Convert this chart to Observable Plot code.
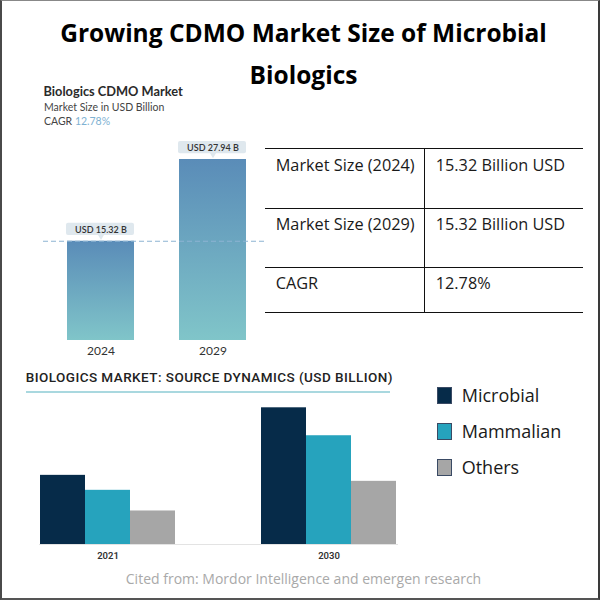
<!DOCTYPE html>
<html><head><meta charset="utf-8">
<script src="https://cdn.jsdelivr.net/npm/d3@7"></script>
<script src="https://cdn.jsdelivr.net/npm/@observablehq/plot@0.6"></script>
<style>
html,body{margin:0;padding:0;background:#fff;}
#page{position:relative;width:600px;height:600px;overflow:hidden;font-family:"Open Sans",sans-serif;background:#fff;}
#frame{position:absolute;left:0;top:0;width:600px;height:600px;box-sizing:border-box;border-left:2px solid #4a4a4a;border-top:1px solid #888;border-right:2.5px solid #3a3a3a;border-bottom:2.5px solid #555;pointer-events:none;z-index:10;}
.abs{position:absolute;white-space:nowrap;line-height:1;}
.hl{position:absolute;height:1.4px;background:#111;}
.vl{position:absolute;width:1.4px;background:#111;}
.cell{position:absolute;white-space:nowrap;line-height:1;font-family:"Open Sans",sans-serif;font-size:16.3px;color:#1a1a1a;}
.sw{position:absolute;width:13px;height:15px;border:1px solid #3a4a64;}
.lg{position:absolute;white-space:nowrap;line-height:1;font-family:"Open Sans",sans-serif;font-size:18px;color:#1a1a1a;}
</style>
</head><body>
<div id="page">
  <div id="title" class="abs" style="left:0;top:11.5px;width:607px;text-align:center;font-weight:700;font-size:24.5px;line-height:42px;color:#000;white-space:normal;">Growing CDMO Market Size of Microbial<br>Biologics</div>

  <div class="abs" style="left:43.5px;top:84.8px;font-family:Lato;font-weight:700;font-size:12.8px;color:#2a2a2a;">Biologics CDMO Market</div>
  <div class="abs" style="left:44px;top:101.7px;font-family:Lato;font-size:10.5px;color:#444;">Market Size in USD Billion</div>
  <div class="abs" style="left:44px;top:116px;font-family:Lato;font-size:10.5px;color:#444;">CAGR <span style="color:#7eb1d2">12.78%</span></div>

  <div id="chart1" style="position:absolute;left:0;top:130px;"></div>
  <div id="table"></div>

  <div class="abs" style="left:25.7px;top:371.4px;font-family:Roboto;font-weight:500;font-size:13.5px;letter-spacing:0.45px;color:#222;">BIOLOGICS MARKET: SOURCE DYNAMICS (USD BILLION)</div>
  <div style="position:absolute;left:26px;top:391px;width:364px;height:1.5px;background:#a9d8df;"></div>
  <div id="chart2" style="position:absolute;left:0;top:395px;"></div>
  <div id="legend"></div>

  <div class="abs" style="left:0;width:607px;text-align:center;top:571.6px;font-size:14px;color:#a9a9a9;">Cited from: Mordor Intelligence and emergen research</div>
  <div id="frame"></div>
</div>
<script>
// ---- Data: Biologics CDMO market ----
const marketYears = ["2024", "2029"];
const marketValues = [15.32, 27.94];
const marketLabels = ["USD 15.32 B", "USD 27.94 B"];

// ---- Data: summary table ----
const tableLabels = ["Market Size (2024)", "Market Size (2029)", "CAGR"];
const tableValues = ["15.32 Billion USD", "15.32 Billion USD", "12.78%"];

// ---- Data: source dynamics (USD billion, estimated) ----
const sourceYears = ["2021", "2030"];
const sources = ["Microbial", "Mammalian", "Others"];
const sourceColors = ["#062b49", "#26a3bd", "#a6a6a6"];
const values2021 = [69.3, 54.3, 33.6];
const values2030 = [137.0, 109.0, 63.3];

const market = marketYears.map((year, i) => ({year, value: marketValues[i], label: marketLabels[i]}));

const gradient = () => {
  const defs = d3.create("svg:defs");
  const g = defs.append("linearGradient").attr("id", "barGrad").attr("x1", 0).attr("y1", 0).attr("x2", 0).attr("y2", 1);
  g.append("stop").attr("offset", "0").attr("stop-color", "#5a8cb8");
  g.append("stop").attr("offset", "1").attr("stop-color", "#80c5c9");
  return defs.node();
};

const chart1 = Plot.plot({
  width: 265, height: 240,
  marginLeft: 43, marginRight: 0, marginTop: 0, marginBottom: 30,
  style: {fontFamily: "Lato", background: "transparent", color: "#333", overflow: "visible"},
  x: {domain: marketYears, range: [66.7, 246], paddingInner: 0.4, paddingOuter: 0, label: null},
  y: {domain: [0, marketValues[1]], range: [210, 29], axis: null},
  marks: [
    gradient,
    Plot.barY(market, {x: "year", y: "value", fill: "url(#barGrad)"}),
    Plot.ruleY([marketValues[0]], {stroke: "#8db4d2", strokeWidth: 1.1, strokeDasharray: "5,3"}),
    Plot.barY(market, {x: "year", y1: "value", y2: "value", insetTop: -18, insetBottom: 5.7, insetLeft: -1, insetRight: 0, fill: "#dfe8ee", rx: 2}),
    Plot.dot(market, {x: "year", y: "value", symbol: "triangle", r: 2.4, rotate: 180, dy: -5, fill: "#dfe8ee"}),
    Plot.text(market, {x: "year", y: "value", text: "label", dy: -11.6, fontSize: 9, fontWeight: 600, fill: "#333"}),
    Plot.axisX({tickSize: 0, tickPadding: 5.5, fontSize: 12, label: null})
  ]
});
document.getElementById("chart1").append(chart1);

// ---- Table ----
const table = document.getElementById("table");
const rowLines = [148.3, 208.3, 267.7, 312.3];
rowLines.forEach(y => {
  const d = document.createElement("div");
  d.className = "hl"; d.style.left = "265px"; d.style.width = "318px"; d.style.top = (y - 0.7) + "px";
  table.append(d);
});
const v = document.createElement("div");
v.className = "vl"; v.style.left = "423.6px"; v.style.top = "148px"; v.style.height = "164.5px";
table.append(v);
const rowBaselines = [171, 230.3, 289.3];
tableLabels.forEach((t, i) => {
  const a = document.createElement("div");
  a.className = "cell"; a.textContent = t; a.style.left = "275.7px"; a.style.top = (rowBaselines[i] - 14.5) + "px";
  table.append(a);
  const b = document.createElement("div");
  b.className = "cell"; b.textContent = tableValues[i]; b.style.left = "435.7px"; b.style.top = (rowBaselines[i] - 14.5) + "px";
  table.append(b);
});

// ---- Source dynamics chart ----
const dyn = [];
[values2021, values2030].forEach((vals, j) => sources.forEach((s, i) => dyn.push({year: sourceYears[j], source: s, value: vals[i]})));

const chart2 = Plot.plot({
  width: 420, height: 175,
  marginLeft: 22, marginRight: 15, marginTop: 0, marginBottom: 26,
  style: {fontFamily: "Roboto", background: "transparent", color: "#333", overflow: "visible"},
  fx: {domain: sourceYears, range: [39, 397.3], paddingInner: 0.38, paddingOuter: 0, label: null},
  x: {domain: sources, padding: 0, axis: null},
  y: {domain: [0, values2030[0]], range: [149, 12.3], axis: null},
  color: {domain: sources, range: sourceColors},
  marks: [
    Plot.barY(dyn, {fx: "year", x: "source", y: "value", fill: "source"}),
    Plot.frame({anchor: "bottom", facet: "super", stroke: "#e3e3e3", strokeWidth: 1}),
    Plot.axisFx({anchor: "bottom", tickSize: 0, tickPadding: 8, fontSize: 9.5, fontWeight: 600, label: null})
  ]
});
document.getElementById("chart2").append(chart2);

// ---- Legend ----
const legend = document.getElementById("legend");
sources.forEach((s, i) => {
  const top = 387.3 + i * 36;
  const sw = document.createElement("div");
  sw.className = "sw"; sw.style.left = "436.7px"; sw.style.top = top + "px"; sw.style.background = sourceColors[i];
  legend.append(sw);
  const t = document.createElement("div");
  t.className = "lg"; t.textContent = s; t.style.left = "461.7px"; t.style.top = (top - 1) + "px";
  legend.append(t);
});
</script>
</body></html>
